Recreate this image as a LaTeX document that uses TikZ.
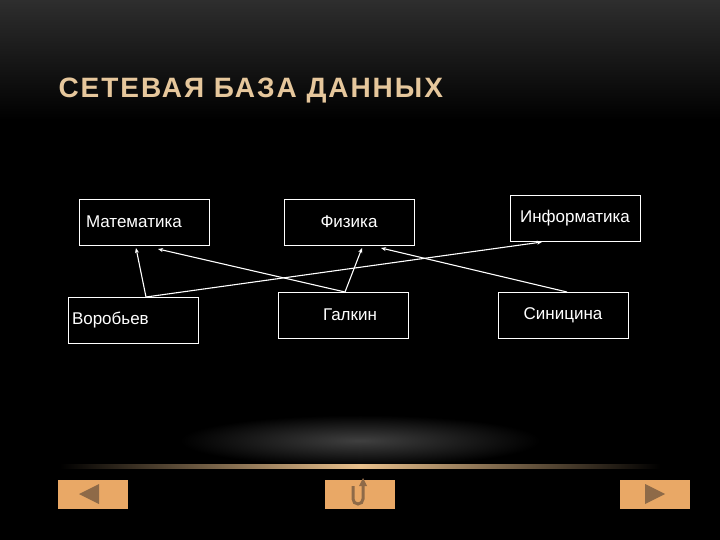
\documentclass[tikz,border=0pt]{standalone}
\usepackage{fontspec}
\setmainfont{Liberation Sans}
\usetikzlibrary{arrows.meta}
\definecolor{tan}{HTML}{E6C79C}
\definecolor{btn}{HTML}{E9A866}
\definecolor{btnd}{HTML}{8E6A48}
\begin{document}
\begin{tikzpicture}[x=1pt,y=-1pt,
  box/.style={draw=white,line width=0.8pt,minimum width=130pt,minimum height=46pt,text=white,font=\fontsize{17}{20}\selectfont,inner sep=0pt},
  arr/.style={white,line width=1.1pt,-{Stealth[length=5pt,width=4pt]}},
  button/.style={fill=btn,minimum width=70pt,minimum height=29pt,inner sep=0pt}]
\useasboundingbox (0,0) rectangle (720,540);
\fill[black] (0,0) rectangle (720,540);
\shade[top color=black!82!white,bottom color=black] (0,0) rectangle (720,120);
\fill[black] (0,120) rectangle (720,540);
\shade[inner color=black!75!white,outer color=black] (180,415) rectangle (540,466);
\shade[left color=black,right color=black,middle color=tan!90!orange] (60,464) rectangle (660,468);
\node[anchor=west,text=tan,font=\bfseries\fontsize{28}{32}\selectfont\addfontfeature{LetterSpace=7}] (title) at (55,91) {СЕТЕВАЯ БАЗА ДАННЫХ};
\node[box,text width=130pt,align=left] (mat) at (144,222) {\hspace*{7pt}Математика};
\node[box] (fiz) at (349,222) {Физика};
\node[box] (inf) at (575,218) {Информатика};
\node[box,text width=130pt,align=left] (vor) at (133,320) {\hspace*{4pt}Воробьев};
\node[box] (gal) at (343,315) {\hspace*{14pt}Галкин};
\node[box] (sin) at (563,315) {Синицина};
\coordinate (v) at (146,297);
\coordinate (g) at (345,292);
\coordinate (s) at (567,292);
\draw[arr] (v) -- (136,248);
\draw[arr] (g) -- (158,249);
\draw[arr] (g) -- (362,248);
\draw[arr] (v) -- (542,242);
\draw[arr] (s) -- (381,248);
\node[button] (bl) at (93,494) {};
\node[button] (bm) at (360,494) {};
\node[button] (br) at (655,494) {};
\fill[btnd] (79,494) -- (99,484) -- (99,504) -- cycle;
\fill[btnd] (665,494) -- (645,484) -- (645,504) -- cycle;
\draw[btnd,line width=3pt] (353,486) -- (353,499) arc[start angle=180,end angle=360,radius=5pt] -- (363,484);
\fill[btnd] (363,478) -- (359,486) -- (367,486) -- cycle;
\end{tikzpicture}
\end{document}
